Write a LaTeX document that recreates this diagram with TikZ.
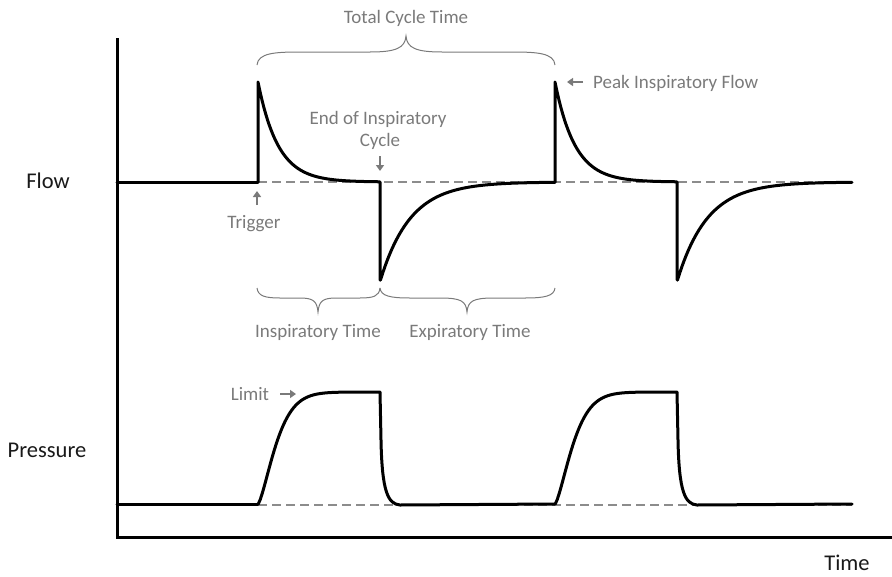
\documentclass[tikz,border=0pt]{standalone}
\usepackage{fontspec}
\setmainfont{Carlito}
\usetikzlibrary{arrows.meta}
\definecolor{anno}{HTML}{7A7A7A}
\definecolor{dashcol}{HTML}{8C8C8C}
\tikzset{
  curve/.style={line width=3pt, line join=round, line cap=round, black},
  axisline/.style={line width=3pt, black},
  basedash/.style={line width=1.3pt, draw=dashcol, dash pattern=on 9pt off 5pt},
  bracestyle/.style={line width=1pt, anno},
  annoarrow/.style={line width=2pt, anno, -{Triangle[length=6pt,width=8pt]}},
  annotext/.style={text=anno, font=\fontsize{19}{22}\selectfont, inner sep=0pt},
  labeltext/.style={text=black!90, font=\fontsize{22.5}{26}\selectfont, inner sep=0pt, anchor=base},
}
\begin{document}
\begin{tikzpicture}[x=1pt,y=-1pt]
\useasboundingbox (0,0) rectangle (892,576);
% axes
\draw[axisline] (117,38) -- (117,537) -- (892,537);
% dashed baselines
\draw[basedash] (258,182) -- (852,182);
\draw[basedash] (258,505) -- (852,505);
% flow curve
\draw[curve] (117,182) -- (258,182);
\foreach \s in {0,297}{
  \begin{scope}[xshift=\s pt]
  \draw[curve] (258,182) -- (258,82)
    -- plot[domain=258.5:380, samples=70] ({\x},{182-100*exp(-(\x-258)/20)})
    -- (380,182) -- (380,280)
    -- plot[domain=380.5:555, samples=80] ({\x},{182+98*exp(-(\x-380.5)/30)});
  \end{scope}
}
% pressure curve
\draw[curve] (117,504) -- (258,504);
\foreach \s in {0,297}{
  \begin{scope}[xshift=\s pt]
  \draw[curve] (258,504)
    -- plot[domain=258.5:380, samples=70] ({\x},{504-112*(1-exp(-((\x-258)/22)^1.4))})
    -- (380,392) -- (381,440) .. controls (382,492) and (388,504) .. (400,505)
    -- (555,504);
  \end{scope}
}
% braces
\draw[bracestyle] (257,65) .. controls (258,53) and (275,52) .. (300,52) -- (370,52)
  .. controls (396,52) and (405,48) .. (406,36)
  .. controls (407,48) and (416,52) .. (442,52) -- (512,52)
  .. controls (537,52) and (554,53) .. (555,65);
\draw[bracestyle] (257,288) .. controls (258,296) and (265,298) .. (280,298) -- (300,298)
  .. controls (313,298) and (317,301) .. (318,312)
  .. controls (319,301) and (323,298) .. (336,298) -- (360,298)
  .. controls (374,298) and (379,296) .. (380,288);
\draw[bracestyle] (380,288) .. controls (381,296) and (390,298) .. (410,298) -- (440,298)
  .. controls (461,298) and (466,301) .. (467,312)
  .. controls (468,301) and (473,298) .. (494,298) -- (525,298)
  .. controls (545,298) and (554,296) .. (555,288);
% labels
\node[labeltext] (flow) at (48,188) {Flow};
\node[labeltext] (pressure) at (47,457) {Pressure};
\node[labeltext] (time) at (847,570) {Time};
% annotations
\node[annotext, anchor=base] (total) at (406,23) {Total Cycle Time};
\node[annotext, anchor=base] (eoi1) at (378,124) {End of Inspiratory};
\node[annotext, anchor=base] (eoi2) at (380,146) {Cycle};
\node[annotext, anchor=base] (trig) at (254,228) {Trigger};
\node[annotext, anchor=base] (insp) at (318,337) {Inspiratory Time};
\node[annotext, anchor=base] (exp) at (470,337) {Expiratory Time};
\node[annotext, anchor=base west] (peak) at (593,88) {Peak Inspiratory Flow};
\node[annotext, anchor=base] (limit) at (250,400) {Limit};
% annotation arrows
\coordinate (eoiA) at (380,156);
\coordinate (eoiB) at (380,171);
\draw[annoarrow] (eoiA) -- (eoiB);
\coordinate (trA) at (257,205);
\coordinate (trB) at (257,191);
\draw[annoarrow] (trA) -- (trB);
\coordinate (pkA) at (583,82);
\coordinate (pkB) at (567,82);
\draw[annoarrow] (pkA) -- (pkB);
\coordinate (lmA) at (280,394);
\coordinate (lmB) at (296,394);
\draw[annoarrow] (lmA) -- (lmB);
\end{tikzpicture}
\end{document}
